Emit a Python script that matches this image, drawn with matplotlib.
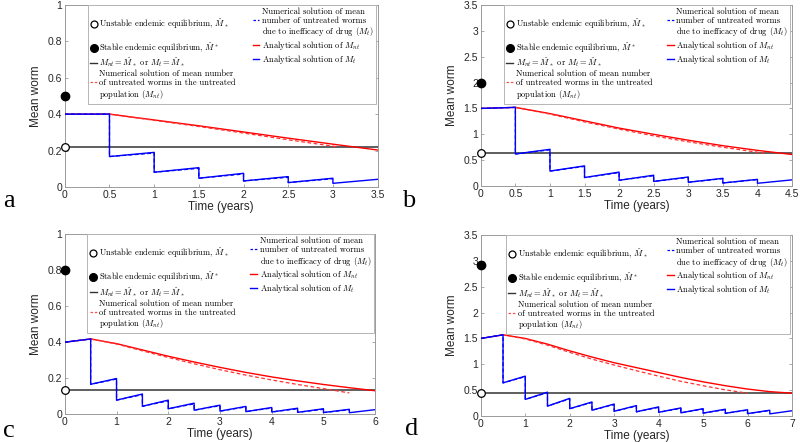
import numpy as np
import matplotlib
matplotlib.use('Agg')
import matplotlib.pyplot as plt
from matplotlib.lines import Line2D
from matplotlib.ticker import FuncFormatter

plt.rcParams['font.family'] = 'Liberation Sans'
plt.rcParams['mathtext.fontset'] = 'cm'

# panel a
a_xmax, a_ymax, a_ystep, a_xstep = 3.5, 1.0, 0.2, 0.5
a_m_unstable = 0.22
a_m_stable = 0.50
a_mt_low = [0.40, 0.167, 0.081, 0.048, 0.033, 0.024, 0.020]
a_mt_high = [0.40, 0.19, 0.106, 0.075, 0.057, 0.048, 0.042]
a_mt_num_high = [0.40, 0.186, 0.102, 0.071, 0.053, 0.045]
a_mnt_ana = [0.40, 0.40, 0.368, 0.336, 0.302, 0.268, 0.235, 0.203]
a_mnt_num_t = [0.5, 1.0, 1.5, 2.0, 2.5, 3.0, 3.05]
a_mnt_num = [0.40, 0.366, 0.332, 0.296, 0.259, 0.224, 0.22]

# panel b
b_xmax, b_ymax, b_ystep, b_xstep = 4.5, 3.5, 0.5, 0.5
b_m_unstable = 0.63
b_m_stable = 2.0
b_mt_low = [1.50, 0.62, 0.29, 0.165, 0.112, 0.09, 0.074, 0.06, 0.054]
b_mt_high = [1.52, 0.71, 0.39, 0.27, 0.21, 0.175, 0.15, 0.13, 0.12]
b_mt_num_high = [1.52, 0.70, 0.38, 0.26, 0.20, 0.167, 0.143, 0.125]
b_mnt_ana = [1.50, 1.52, 1.40, 1.26, 1.12, 1.00, 0.886, 0.78, 0.69, 0.61]
b_mnt_num_t = [0.5, 1.0, 1.5, 2.0, 2.5, 3.0, 3.5, 4.0, 4.1]
b_mnt_num = [1.52, 1.39, 1.24, 1.10, 0.97, 0.855, 0.75, 0.655, 0.635]

# panel c
c_xmax, c_ymax, c_ystep, c_xstep = 6.0, 1.0, 0.2, 1.0
c_m_unstable = 0.135
c_m_stable = 0.80
c_mt_low = [0.40, 0.166, 0.078, 0.044, 0.030, 0.022, 0.017, 0.014, 0.012, 0.010, 0.009, 0.008]
c_mt_high = [0.418, 0.198, 0.112, 0.078, 0.061, 0.050, 0.043, 0.037, 0.033, 0.030, 0.027, 0.025]
c_mt_num_high = [0.418, 0.195, 0.108, 0.074, 0.057, 0.047, 0.040, 0.034, 0.030, 0.027, 0.024]
c_mnt_ana = [0.40, 0.418, 0.392, 0.357, 0.322, 0.29, 0.26, 0.232, 0.207, 0.185, 0.165, 0.147, 0.13]
c_mnt_num_t = [0.5, 1.0, 1.5, 2.0, 2.5, 3.0, 3.5, 4.0, 4.5, 5.0, 5.5]
c_mnt_num = [0.418, 0.39, 0.352, 0.315, 0.28, 0.247, 0.217, 0.19, 0.165, 0.142, 0.118]

# panel d
d_xmax, d_ymax, d_ystep, d_xstep = 7.0, 3.5, 0.5, 1.0
d_m_unstable = 0.44
d_m_stable = 2.92
d_mt_low = [1.50, 0.64, 0.32, 0.19, 0.14, 0.11, 0.09, 0.08, 0.07, 0.06, 0.055, 0.05, 0.045, 0.04]
d_mt_high = [1.57, 0.77, 0.46, 0.34, 0.27, 0.23, 0.20, 0.175, 0.155, 0.14, 0.13, 0.12, 0.11, 0.10]
d_mt_num_high = [1.57, 0.76, 0.45, 0.33, 0.26, 0.22, 0.19, 0.165, 0.147, 0.133, 0.122, 0.112, 0.103]
d_mnt_ana = [1.50, 1.57, 1.50, 1.39, 1.26, 1.14, 1.03, 0.935, 0.84, 0.745, 0.66, 0.585, 0.52, 0.47, 0.44]
d_mnt_num_t = [0.5, 1.0, 1.5, 2.0, 2.5, 3.0, 3.5, 4.0, 4.5, 5.0, 5.5, 6.0]
d_mnt_num = [1.57, 1.49, 1.37, 1.23, 1.10, 0.985, 0.875, 0.77, 0.67, 0.585, 0.505, 0.44]

period = 0.5  # treatment every half year

# legend rows, left column then right column (one text line per row)
col1_labels = [' ', 'Unstable endemic equilibrium, $\\hat{M}_*$', ' ',
               'Stable endemic equilibrium, $\\hat{M}^*$',
               '$M_{nt}=\\hat{M}_*$ or $M_t=\\hat{M}_*$',
               'Numerical solution of mean number', 'of untreated worms in the untreated',
               'population ($M_{nt}$)']
col2_labels = ['Numerical solution of mean', 'number of untreated worms',
               'due to inefficacy of drug ($M_t$)',
               'Analytical solution of $M_{nt}$', 'Analytical solution of $M_t$', ' ', ' ', ' ']

panels = [
    dict(name='a', xmax=a_xmax, ymax=a_ymax, ystep=a_ystep, xstep=a_xstep, mu=a_m_unstable, ms=a_m_stable,
         lo=a_mt_low, hi=a_mt_high, nhi=a_mt_num_high, ana=a_mnt_ana, nt=a_mnt_num_t, num=a_mnt_num,
         pos=[0.081, 0.577, 0.391, 0.412], leg=0.073, txt=(0.004, 0.532)),
    dict(name='b', xmax=b_xmax, ymax=b_ymax, ystep=b_ystep, xstep=b_xstep, mu=b_m_unstable, ms=b_m_stable,
         lo=b_mt_low, hi=b_mt_high, nhi=b_mt_num_high, ana=b_mnt_ana, nt=b_mnt_num_t, num=b_mnt_num,
         pos=[0.601, 0.579, 0.389, 0.410], leg=0.074, txt=(0.503, 0.532)),
    dict(name='c', xmax=c_xmax, ymax=c_ymax, ystep=c_ystep, xstep=c_xstep, mu=c_m_unstable, ms=c_m_stable,
         lo=c_mt_low, hi=c_mt_high, nhi=c_mt_num_high, ana=c_mnt_ana, nt=c_mnt_num_t, num=c_mnt_num,
         pos=[0.081, 0.063, 0.388, 0.407], leg=0.073, txt=(0.004, 0.012)),
    dict(name='d', xmax=d_xmax, ymax=d_ymax, ystep=d_ystep, xstep=d_xstep, mu=d_m_unstable, ms=d_m_stable,
         lo=d_mt_low, hi=d_mt_high, nhi=d_mt_num_high, ana=d_mnt_ana, nt=d_mnt_num_t, num=d_mnt_num,
         pos=[0.601, 0.059, 0.389, 0.409], leg=0.080, txt=(0.506, 0.016)),
]


def sawtooth(lo, hi):
    xs, ys = [], []
    for k in range(len(hi)):
        xs += [k * period, (k + 1) * period]
        ys += [lo[k], hi[k]]
    return xs, ys


fig = plt.figure(figsize=(8, 4.42), dpi=100)
edge = '#9a9a9a'
for p in panels:
    ax = fig.add_axes(p['pos'])
    ax.axhline(p['mu'], color='#333333', lw=1.1, zorder=2)
    t_ana = period * np.arange(len(p['ana']))
    ax.plot(t_ana, p['ana'], color='#ff0000', lw=1.0, zorder=3)
    ax.plot(p['nt'], p['num'], color='#ff3030', lw=0.9, ls=(0, (3, 2)), zorder=3)
    sx, sy = sawtooth(p['lo'], p['hi'])
    ax.plot(sx, sy, color='#0000ff', lw=1.0, zorder=4)
    nx, ny = sawtooth(p['lo'], p['nhi'])
    ax.plot(nx, ny, color='#0000ff', lw=0.9, ls=(0, (3, 2)), zorder=4)
    ax.plot([0], [p['mu']], 'o', ms=5.5, mfc='white', mec='black', mew=0.9, clip_on=False, zorder=6)
    ax.plot([0], [p['ms']], 'o', ms=6, mfc='black', mec='black', clip_on=False, zorder=6)

    ax.set_xlim(0, p['xmax'])
    ax.set_ylim(0, p['ymax'])
    ax.set_xticks(np.arange(0, p['xmax'] + 1e-9, p['xstep']))
    ax.set_yticks(np.arange(0, p['ymax'] + 1e-9, p['ystep']))
    fmt = FuncFormatter(lambda v, pos: '%g' % round(v, 3))
    ax.xaxis.set_major_formatter(fmt)
    ax.yaxis.set_major_formatter(fmt)
    ax.tick_params(direction='in', length=2.5, width=0.6, color=edge, labelsize=7.5,
                   labelcolor='#262626', pad=2, top=True, right=True)
    for s in ax.spines.values():
        s.set_color(edge)
        s.set_linewidth(0.7)
    ax.set_xlabel('Time (years)', fontsize=8.5, color='#262626', labelpad=1)
    ax.set_ylabel('Mean worm', fontsize=8.5, color='#262626', labelpad=4)

    blank = Line2D([], [], ls='none')
    col1_handles = [
        blank,
        Line2D([], [], ls='none', marker='o', ms=5, mfc='white', mec='black', mew=0.9),
        blank,
        Line2D([], [], ls='none', marker='o', ms=5.5, mfc='black', mec='black'),
        Line2D([], [], color='#333333', lw=1.0),
        blank,
        Line2D([], [], color='#ff5050', lw=0.9, ls=(0, (2, 1.5))),
        blank,
    ]
    col2_handles = [
        blank,
        Line2D([], [], color='#0000ff', lw=0.9, ls=(0, (2, 1.5))),
        blank,
        Line2D([], [], color='#ff0000', lw=1.0),
        Line2D([], [], color='#0000ff', lw=1.0),
        blank, blank, blank,
    ]
    x0 = p['leg']
    leg = ax.legend(col1_handles + col2_handles, col1_labels + col2_labels, ncol=2,
                    loc='upper left', mode='expand',
                    bbox_to_anchor=(x0, 0.4, 0.995 - x0, 0.6), borderaxespad=0,
                    prop={'family': 'cmr10', 'size': 6.1}, handlelength=0.8, handletextpad=0.3,
                    labelspacing=0.07, borderpad=0.3, columnspacing=0.5,
                    fancybox=False, framealpha=1, edgecolor='#b5b5b5')
    leg.get_frame().set_linewidth(0.7)
    leg.set_zorder(10)

    fig.text(p['txt'][0], p['txt'][1], p['name'], fontsize=19, family='Liberation Serif', color='black')

fig.savefig('out.png', dpi=100)
